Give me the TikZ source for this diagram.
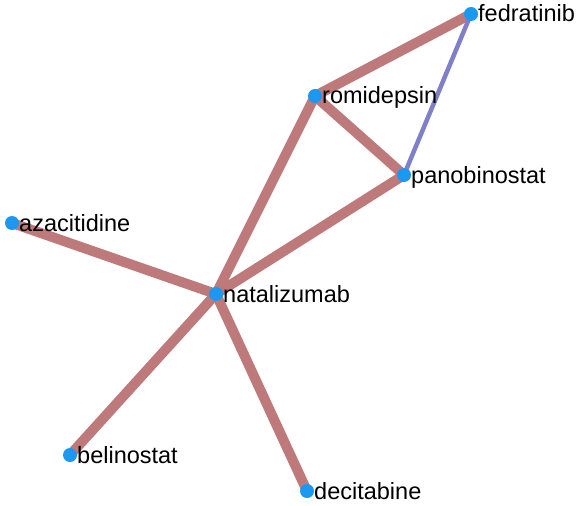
\documentclass[tikz,border=0pt]{standalone}
\usepackage{fontspec}
\setmainfont{Liberation Sans}
\definecolor{linkred}{RGB}{190,122,122}
\definecolor{linkblue}{RGB}{128,128,200}
\definecolor{dotblue}{RGB}{28,152,240}
\begin{document}
\begin{tikzpicture}[x=1pt,y=-1pt,
  drug/.style={circle,fill=dotblue,inner sep=0pt,minimum size=14pt},
  tag/.style={anchor=base west,inner sep=0pt,font=\fontsize{23.5}{26}\selectfont},
  strong/.style={draw=linkred,line width=10pt},
  weak/.style={draw=linkblue,line width=4.5pt}]
\useasboundingbox (0,0) rectangle (577,505);
% drug positions
\coordinate (fed) at (471,14);
\coordinate (rom) at (315,96);
\coordinate (pan) at (404,175);
\coordinate (aza) at (12,223);
\coordinate (nat) at (216,294);
\coordinate (bel) at (70,455);
\coordinate (dec) at (307,491);
% links
\draw[strong] (fed) -- (rom);
\draw[weak] (fed) -- (pan);
\draw[strong] (rom) -- (pan);
\draw[strong] (rom) -- (nat);
\draw[strong] (pan) -- (nat);
\draw[strong] (aza) -- (nat);
\draw[strong] (nat) -- (bel);
\draw[strong] (nat) -- (dec);
% markers and labels (label baseline sits 8pt below the marker centre)
\foreach \c/\t in {fed/fedratinib,rom/romidepsin,pan/panobinostat,aza/azacitidine,nat/natalizumab,bel/belinostat,dec/decitabine}{
  \node[drug] (\c-dot) at (\c) {};
  \node[tag] (\c-label) at ([xshift=7pt,yshift=-8pt]\c) {\t};
}
\end{tikzpicture}
\end{document}
